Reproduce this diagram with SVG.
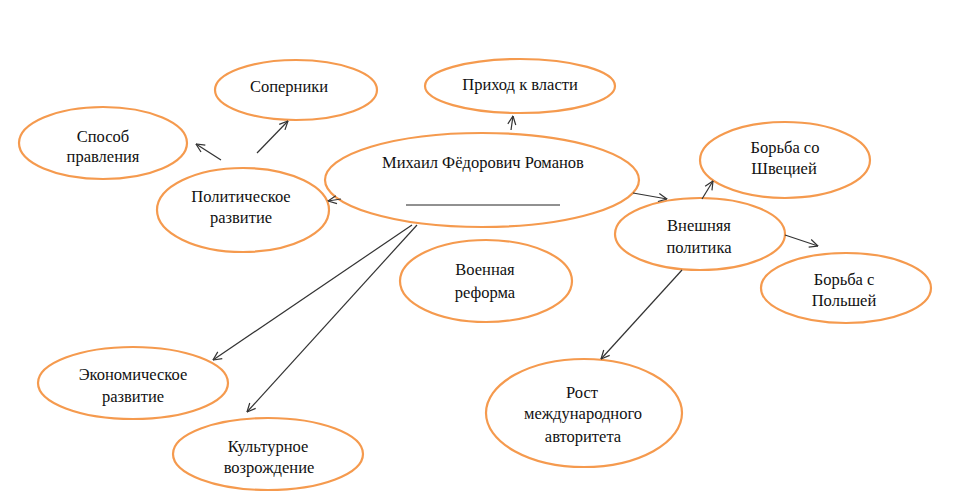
<svg xmlns="http://www.w3.org/2000/svg" width="960" height="504" viewBox="0 0 960 504">
<style>
.node ellipse{fill:#fff;stroke:#F59A4E;stroke-width:2.2}
.node text{font-family:"Liberation Serif","DejaVu Serif",serif;font-size:16.5px;fill:#111;text-anchor:middle}
.conn line{stroke:#333;stroke-width:1.2;marker-end:url(#arr)}
</style>
<defs>
<marker id="arr" viewBox="0 0 10 10" refX="9.5" refY="5" markerWidth="10" markerHeight="10" markerUnits="userSpaceOnUse" orient="auto">
<path d="M1,1 L9.5,5 L1,9" fill="none" stroke="#333" stroke-width="1.2"/>
</marker>
</defs>
<rect width="960" height="504" fill="#fff"/>
<g id="n-sopern" class="node"><ellipse cx="296" cy="90" rx="81" ry="30"/><text x="289" y="92">Соперники</text></g>
<g id="n-prihod" class="node"><ellipse cx="520" cy="86" rx="95" ry="27"/><text x="520" y="90">Приход к власти</text></g>
<g id="n-sposob" class="node"><ellipse cx="103" cy="143" rx="84" ry="36"/><text x="103" y="142">Способ</text><text x="103" y="162">правления</text></g>
<g id="n-polit" class="node"><ellipse cx="243" cy="210" rx="86" ry="42"/><text x="241" y="202">Политическое</text><text x="241" y="223">развитие</text></g>
<g id="n-mikhail" class="node"><ellipse cx="482" cy="180" rx="157" ry="47"/><text x="483" y="168">Михаил Фёдорович Романов</text><line x1="406" y1="205" x2="560" y2="205" stroke="#222" stroke-width="1"/></g>
<g id="n-shved" class="node"><ellipse cx="785" cy="160" rx="85" ry="38"/><text x="785" y="153">Борьба со</text><text x="784" y="174">Швецией</text></g>
<g id="n-vnesh" class="node"><ellipse cx="700" cy="234" rx="85" ry="36"/><text x="699" y="231">Внешняя</text><text x="699" y="253">политика</text></g>
<g id="n-polsha" class="node"><ellipse cx="846" cy="288" rx="85" ry="35"/><text x="844" y="285">Борьба с</text><text x="844" y="306">Польшей</text></g>
<g id="n-voen" class="node"><ellipse cx="486" cy="281" rx="86" ry="41"/><text x="485" y="275">Военная</text><text x="485" y="298">реформа</text></g>
<g id="n-rost" class="node"><ellipse cx="584" cy="413" rx="98" ry="54"/><text x="582" y="398">Рост</text><text x="583" y="419">международного</text><text x="583" y="442">авторитета</text></g>
<g id="n-ekon" class="node"><ellipse cx="133" cy="383" rx="95" ry="36"/><text x="133" y="380">Экономическое</text><text x="133" y="402">развитие</text></g>
<g id="n-kult" class="node"><ellipse cx="268" cy="454" rx="95" ry="36"/><text x="268" y="452">Культурное</text><text x="269" y="473">возрождение</text></g>
<g id="connectors" class="conn">
<line x1="221" y1="160" x2="196" y2="144"/>
<line x1="257" y1="153" x2="288" y2="121"/>
<line x1="341" y1="199" x2="328" y2="201"/>
<line x1="511" y1="130" x2="513" y2="116"/>
<line x1="633" y1="193" x2="667" y2="199"/>
<line x1="702" y1="199" x2="713" y2="181"/>
<line x1="785" y1="235" x2="818" y2="246"/>
<line x1="682" y1="270" x2="601" y2="359"/>
<line x1="412" y1="225" x2="213" y2="360"/>
<line x1="417" y1="225" x2="247" y2="412"/>
</g>
</svg>
